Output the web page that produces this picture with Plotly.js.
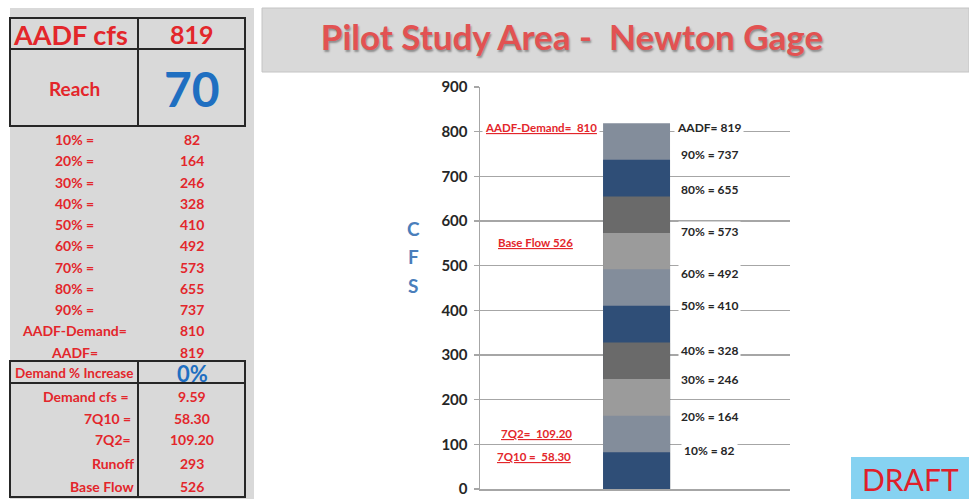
<!DOCTYPE html>
<html>
<head>
<meta charset="utf-8">
<script src="https://cdn.plot.ly/plotly-3.0.1.min.js"></script>
<style>html,body{margin:0;padding:0;background:#fff;}#chart{width:969px;height:499px;}</style>
</head>
<body>
<div id="chart"></div>
<script>
// ---------- DATA ----------
const percentLabels = ['10%', '20%', '30%', '40%', '50%', '60%', '70%', '80%', '90%', 'AADF'];
const flowValues = [82, 164, 246, 328, 410, 492, 573, 655, 737, 819];
const aadfCfs = 819;
const reach = 70;
const aadfDemand = 810;
const demandIncrease = '0%';
const demandCfs = 9.59;
const q7_10 = 58.30;
const q7_2 = 109.20;
const runoff = 293;
const baseFlow = 526;
const yTickValues = [0, 100, 200, 300, 400, 500, 600, 700, 800, 900];

// ---------- STYLE / LAYOUT HELPERS ----------
const W = 969, H = 499;
const PL = 480, PR = 790, PT = 87, PB = 489;
const X = px => (px - PL) / (PR - PL);
const Y = py => (PB - py) / (PB - PT);
const FONT = 'Lato, "Open Sans", sans-serif';
const RED = '#E3262B';
const BLUE = '#1F6FC1';
const segPalette = ['#2F4E77', '#838D9B', '#9B9B9B', '#6A6A6A'];
const rightLabelShift = [2, -1, 0, -8, 0, -4, 2, 7, 5, -4];

// bars: overlay, largest first so smaller ones sit on top
const traces = [];
for (let i = flowValues.length - 1; i >= 0; i--) {
  traces.push({
    type: 'bar', x: [0], y: [flowValues[i]], width: 0.216,
    marker: {color: segPalette[i % 4], line: {width: 0}},
    hoverinfo: 'skip', showlegend: false
  });
}

const shapes = [];
const annotations = [];
function rect(x0, y0, x1, y1, fill, lineColor, lw, layer) {
  shapes.push({type: 'rect', xref: 'paper', yref: 'paper', x0: X(x0), x1: X(x1), y0: Y(y1), y1: Y(y0),
    fillcolor: fill, line: {color: lineColor || 'rgba(0,0,0,0)', width: lw || 0}, layer: layer || 'below'});
}
function line(x0, y0, x1, y1, color, lw) {
  shapes.push({type: 'line', xref: 'paper', yref: 'paper', x0: X(x0), x1: X(x1), y0: Y(y0), y1: Y(y1),
    line: {color: color, width: lw}, layer: 'above'});
}
function txt(text, px, py, size, color, opts) {
  opts = opts || {};
  annotations.push(Object.assign({
    text: text, xref: 'paper', yref: 'paper', x: X(px), y: Y(py),
    xanchor: 'center', yanchor: 'middle', showarrow: false,
    font: {family: FONT, size: size, color: color, weight: opts.weight || 'bold'}
  }, opts.extra || {}));
}

// left panel + title bar
rect(10, 8, 254, 499, '#D9D9D9');
rect(262, 8, 969, 72, '#D9D9D9', '#C4C4C4', 1);
// table borders
const DARK = '#262626';
rect(10, 18, 245, 126, 'rgba(0,0,0,0)', DARK, 2, 'above');
line(10, 49, 245, 49, DARK, 2);
line(138, 18, 138, 126, DARK, 2);
rect(10, 361, 245, 383, 'rgba(0,0,0,0)', DARK, 2, 'above');
line(138, 361, 138, 383, DARK, 2);
rect(10, 383, 245, 497, 'rgba(0,0,0,0)', DARK, 2, 'above');
line(138, 383, 138, 497, DARK, 2);

// table text
const colL = 74, colR = 192;
txt('AADF cfs', 70, 34, 27, RED);
txt(String(aadfCfs), colR, 34, 25, RED);
txt('Reach', colL, 89, 19, RED);
txt(String(reach), colR, 89, 48, BLUE);
const rowStart = 139.5, rowStep = 21.25;
percentLabels.slice(0, 9).forEach((p, i) => {
  txt(p + ' =', colL, rowStart + i * rowStep, 14, RED);
  txt(String(flowValues[i]), colR, rowStart + i * rowStep, 14, RED);
});
txt('AADF-Demand=', colL, rowStart + 9 * rowStep, 14, RED);
txt(String(aadfDemand), colR, rowStart + 9 * rowStep, 14, RED);
txt('AADF=', colL, rowStart + 10 * rowStep, 14, RED);
txt(String(flowValues[9]), colR, rowStart + 10 * rowStep, 14, RED);
txt('Demand % Increase', colL, 373, 13.5, RED);
txt(demandIncrease, colR, 373, 22, BLUE);
const lowRows = [
  ['Demand cfs =', demandCfs.toFixed(2), 396.5, 131],
  ['7Q10 =', q7_10.toFixed(2), 418, 133],
  ['7Q2=', q7_2.toFixed(2), 439, 133],
  ['Runoff', String(runoff), 463, 136],
  ['Base Flow', String(baseFlow), 486.5, 136]
];
lowRows.forEach(r => {
  txt(r[0], r[3], r[2], 14, RED, {extra: {xanchor: 'right'}});
  txt(r[1], colR, r[2], 14, RED);
});

// CFS axis letters
['C', 'F', 'S'].forEach((c, i) => txt(c, 413, 228 + i * 28.5, 19, '#4A7EBB'));

// DRAFT box
rect(851, 457, 969, 499, '#86D2F1', null, 0, 'above');
txt('DRAFT', 910, 479, 30, '#E0202A', {weight: 'normal'});

// right data labels
flowValues.forEach((v, i) => {
  const lbl = percentLabels[i] === 'AADF' ? 'AADF= ' + v : percentLabels[i] + ' = ' + v;
  annotations.push({
    text: lbl, xref: 'paper', yref: 'y', x: X(709), y: v, yshift: rightLabelShift[i],
    xanchor: 'center', yanchor: 'middle', showarrow: false, bgcolor: '#FFFFFF', borderpad: 2,
    font: {family: FONT, size: 12, color: '#262626', weight: 'bold'}
  });
});

// left red underlined labels
const leftLabels = [
  ['AADF-Demand=  ' + aadfDemand, aadfDemand, 541, 0],
  ['Base Flow ' + baseFlow, baseFlow, 535, 12],
  ['7Q2=  ' + q7_2.toFixed(2), q7_2, 536, 7],
  ['7Q10 =  ' + q7_10.toFixed(2), q7_10, 534, 6]
];
leftLabels.forEach(l => {
  annotations.push({
    text: l[0], xref: 'paper', yref: 'y', x: X(l[2]), y: l[1], yshift: l[3],
    xanchor: 'center', yanchor: 'middle', showarrow: false, bgcolor: '#FFFFFF', borderpad: 2,
    font: {family: FONT, size: 11.5, color: RED, weight: 'bold', lineposition: 'under'}
  });
});

const layout = {
  width: W, height: H,
  margin: {l: PL, r: W - PR, t: PT, b: H - PB, pad: 0},
  paper_bgcolor: '#FFFFFF', plot_bgcolor: '#FFFFFF',
  barmode: 'overlay', showlegend: false,
  title: {
    text: 'Pilot Study Area -  Newton Gage', x: 572 / W, y: 1 - 38 / H, xanchor: 'center', yanchor: 'middle',
    xref: 'container', yref: 'container',
    font: {family: FONT, size: 35, color: '#E25252', weight: 'bold', shadow: '1px 2px 2px rgba(0,0,0,0.35)'}
  },
  xaxis: {range: [-0.505, 0.495], showticklabels: false, showgrid: false, zeroline: false,
    showline: true, linecolor: '#A6A6A6', linewidth: 1.5, ticks: '', fixedrange: true},
  yaxis: {range: [0, 900], tickvals: yTickValues, showgrid: true, gridcolor: '#A6A6A6', gridwidth: 1.3,
    zeroline: false, showline: true, linecolor: '#A6A6A6', linewidth: 1.5,
    ticks: 'outside', ticklen: 5, tickcolor: '#A6A6A6', tickwidth: 1.3, ticklabelstandoff: 3,
    tickfont: {family: FONT, size: 15, color: '#262626', weight: 'bold'}, fixedrange: true},
  shapes: shapes, annotations: annotations
};

Plotly.newPlot('chart', traces, layout, {displayModeBar: false, staticPlot: true});
</script>
</body>
</html>
